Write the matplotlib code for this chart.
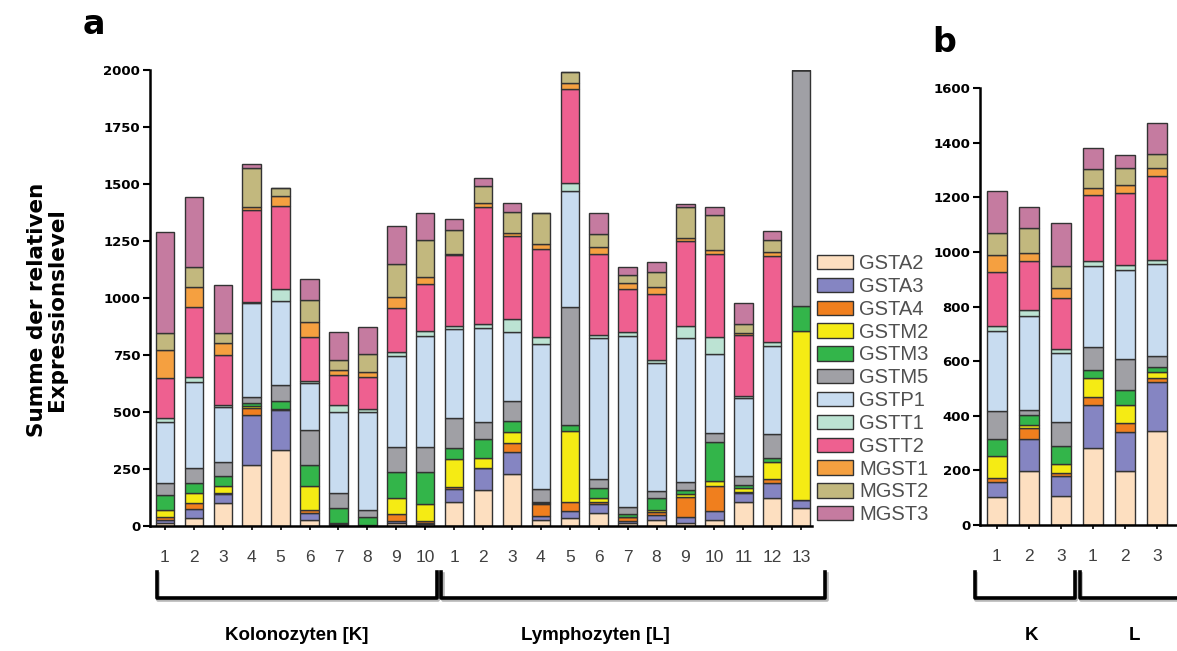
import matplotlib
matplotlib.use('Agg')
import matplotlib.pyplot as plt
import matplotlib.transforms as mtransforms
import matplotlib.patheffects as pe
import numpy as np

plt.rcParams['font.family'] = ['Liberation Sans', 'DejaVu Sans']

genes = ['GSTA2', 'GSTA3', 'GSTA4', 'GSTM2', 'GSTM3', 'GSTM5',
         'GSTP1', 'GSTT1', 'GSTT2', 'MGST1', 'MGST2', 'MGST3']
colors = ['#FDDFC0', '#8585C2', '#F07F1E', '#F5EB14', '#33B54A', '#A0A0A5',
          '#C8DCF0', '#BCE3D3', '#EE6090', '#F5A040', '#C2B87E', '#C57BA0']

# panel a: 10 Kolonozyten + 13 Lymphozyten, one row per sample, columns = genes
kolon_a = [
    [12, 14, 14, 30, 66, 51, 271, 14, 176, 124, 76, 441],
    [34, 39, 26, 44, 44, 69, 377, 19, 310, 85, 90, 307],
    [99, 41, 6, 29, 46, 58, 241, 11, 219, 51, 47, 208],
    [268, 219, 32, 7, 15, 26, 410, 4, 405, 15, 168, 17],
    [333, 176, 3, 0, 36, 70, 370, 50, 367, 44, 35, 0],
    [26, 30, 14, 107, 91, 153, 205, 10, 194, 66, 95, 91],
    [3, 4, 8, 0, 62, 66, 358, 30, 131, 22, 44, 124],
    [3, 0, 3, 0, 35, 29, 431, 11, 143, 22, 77, 120],
    [12, 11, 28, 70, 114, 113, 398, 19, 193, 48, 142, 169],
    [9, 2, 12, 72, 140, 113, 485, 22, 205, 34, 160, 117],
]
lympho_a = [
    [107, 54, 11, 120, 52, 131, 388, 14, 312, 5, 104, 47],
    [158, 95, 3, 41, 83, 78, 409, 18, 516, 14, 76, 37],
    [228, 98, 37, 48, 50, 87, 304, 54, 366, 12, 92, 39],
    [26, 18, 52, 5, 6, 54, 637, 32, 383, 22, 136, 0],
    [34, 32, 38, 313, 26, 516, 510, 34, 414, 25, 51, 0],
    [56, 39, 12, 14, 44, 40, 618, 15, 355, 32, 54, 92],
    [12, 11, 18, 0, 12, 32, 750, 14, 189, 26, 37, 36],
    [26, 22, 15, 7, 51, 34, 561, 12, 288, 31, 68, 44],
    [12, 29, 88, 10, 18, 36, 630, 52, 375, 12, 135, 14],
    [26, 40, 109, 22, 170, 39, 348, 76, 363, 18, 153, 36],
    [104, 42, 4, 18, 12, 41, 339, 10, 268, 10, 37, 95],
    [124, 63, 18, 74, 18, 105, 389, 15, 380, 14, 54, 40],
    [77, 37, 0, 741, 111, 1034, 0, 0, 0, 0, 0, 0],
]
# panel b: group means
kolon_b = [
    [102, 54, 16, 79, 64, 103, 291, 18, 201, 61, 79, 155],
    [196, 120, 39, 10, 39, 18, 344, 22, 177, 30, 92, 79],
    [107, 71, 12, 33, 65, 89, 252, 15, 186, 37, 83, 155],
]
lympho_b = [
    [282, 156, 29, 71, 28, 85, 299, 15, 244, 24, 69, 77],
    [196, 143, 34, 65, 57, 114, 325, 18, 263, 30, 61, 49],
    [343, 179, 16, 24, 18, 40, 336, 15, 307, 28, 51, 114],
]
labels_a = [str(i) for i in range(1, 11)] + [str(i) for i in range(1, 14)]
labels_b = ['1', '2', '3', '1', '2', '3']

EDGE = '#333333'


def stacked(ax, rows, width):
    vals = np.array(rows, dtype=float)
    x = np.arange(len(vals))
    bottom = np.zeros(len(vals))
    handles = []
    for j, g in enumerate(genes):
        h = ax.bar(x, vals[:, j], width, bottom=bottom, color=colors[j],
                   edgecolor=EDGE, linewidth=1.0, label=g, zorder=2)
        handles.append(h)
        bottom += vals[:, j]
    return x, handles


def style_axis(ax, labels):
    for s in ['top', 'right']:
        ax.spines[s].set_visible(False)
    ax.spines['left'].set_linewidth(1.8)
    ax.spines['bottom'].set_linewidth(1.8)
    ax.tick_params(axis='y', length=5, width=1.5, labelsize=9.5, pad=2)
    ax.tick_params(axis='x', length=3, width=1.2, labelsize=12.5, pad=14,
                   labelcolor='#404040')
    for t in ax.get_yticklabels():
        t.set_fontweight('bold')
        t.set_family('DejaVu Sans')
    ax.set_xticklabels(labels)


fig = plt.figure(figsize=(11.77, 6.51), dpi=100)

# panel a
ax = fig.add_axes([0.1274, 0.192, 0.5626, 0.7005])
x, handles = stacked(ax, kolon_a + lympho_a, 0.64)
ax.set_xlim(-0.52, 22.38)
ax.set_ylim(0, 2000)
ax.set_yticks([0, 250, 500, 750, 1000, 1250, 1500, 1750, 2000])
ax.set_xticks(x)
style_axis(ax, labels_a)
ax.set_ylabel('Summe der relativen\nExpressionslevel', fontsize=15.5,
              fontweight='bold', family='DejaVu Sans', linespacing=1.0)
ax.yaxis.set_label_coords(-0.125, 0.474)

leg = fig.legend(handles, genes, loc='upper left',
                 bbox_to_anchor=(0.687, 0.622), frameon=False,
                 fontsize=14.5, handlelength=1.8, handleheight=0.72,
                 handletextpad=0.3, labelspacing=0.19, borderaxespad=0)
for t in leg.get_texts():
    t.set_color('#505050')

# panel b
axb = fig.add_axes([0.8326, 0.1935, 0.1674, 0.6713])
xb, _ = stacked(axb, kolon_b + lympho_b, 0.65)
axb.set_xlim(-0.53, 5.625)
axb.set_ylim(0, 1600)
axb.set_yticks(range(0, 1601, 200))
axb.set_xticks(xb)
style_axis(axb, labels_b)

fig.text(0.07, 0.962, 'a', fontsize=24, fontweight='bold',
         family='DejaVu Sans', ha='left', va='center')
fig.text(0.792, 0.935, 'b', fontsize=24, fontweight='bold',
         family='DejaVu Sans', ha='left', va='center')

# group brackets below the x axes
shadow = [pe.SimpleLineShadow(offset=(1, -1.5), shadow_color='#888888', alpha=0.6),
          pe.Normal()]
y_top = (651 - 572) / 651
y_bot = (651 - 598) / 651


def bracket(axis, x0, x1):
    tr = mtransforms.blended_transform_factory(axis.transData, fig.transFigure)
    axis.plot([x0, x0, x1, x1], [y_top, y_bot, y_bot, y_top], color='black',
              lw=2.6, transform=tr, clip_on=False, solid_joinstyle='round',
              path_effects=shadow)


bracket(ax, -0.28, 9.41)
bracket(ax, 9.55, 22.84)
bracket(axb, -0.69, 2.44)
bracket(axb, 2.59, 6.2)

lab_y = (651 - 636) / 651
for xp, txt in [(297, 'Kolonozyten [K]'), (595, 'Lymphozyten [L]'),
                (1032, 'K'), (1135, 'L')]:
    fig.text(xp / 1177, lab_y, txt, fontsize=13.5, fontweight='bold',
             ha='center', va='center')

fig.savefig('out.png', dpi=100)
